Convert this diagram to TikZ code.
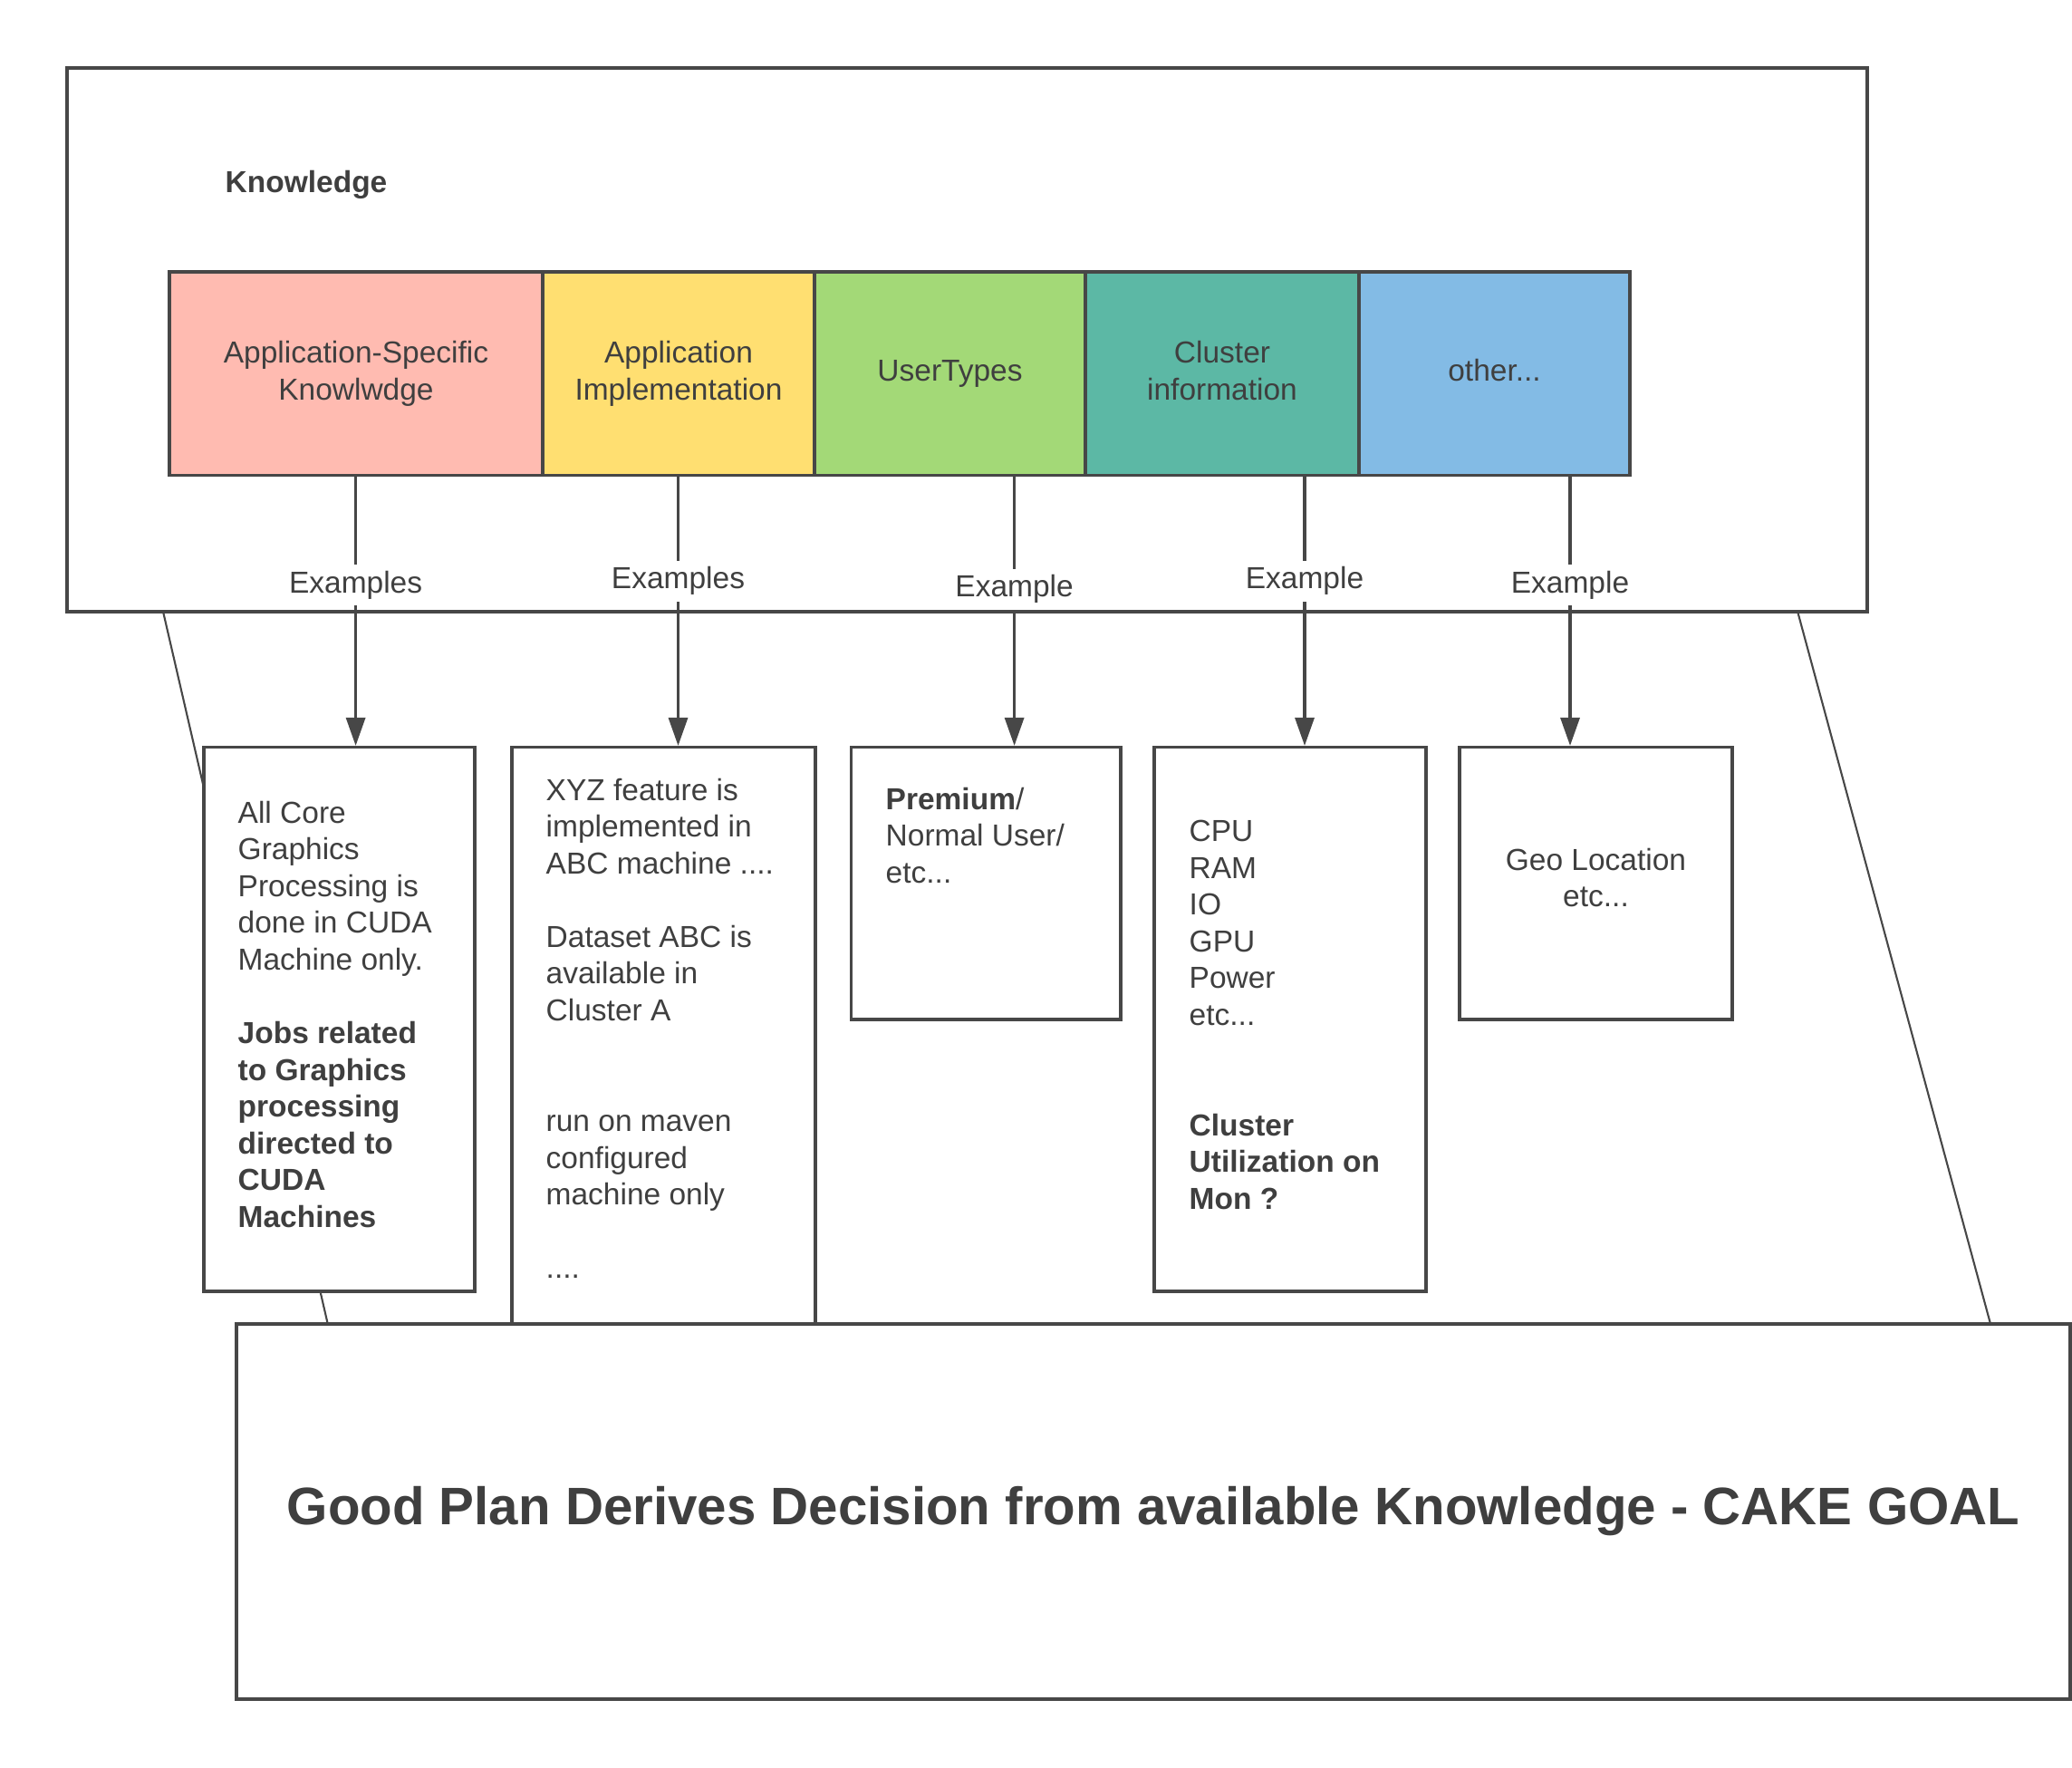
\documentclass[tikz,border=0pt]{standalone}
\usepackage{fontspec}
\setmainfont{Liberation Sans}
\usetikzlibrary{arrows.meta}
\definecolor{linegray}{HTML}{474747}
\definecolor{textgray}{HTML}{3F3F3F}
\definecolor{appfill}{HTML}{FFBBB1}
\definecolor{implfill}{HTML}{FFDF71}
\definecolor{userfill}{HTML}{A3D977}
\definecolor{clusterfill}{HTML}{5CB8A5}
\definecolor{otherfill}{HTML}{83BBE5}
\tikzstyle{boxframe}=[draw=linegray, line width=0.9pt, fill=white, inner sep=0pt]
\tikzstyle{kcell}=[boxframe, minimum height=2.245cm, align=center, execute at begin node={\vphantom{Ag}}, execute at end node={\vphantom{g}}]
\tikzstyle{note}=[anchor=north west, align=left, inner sep=0pt]
\tikzstyle{exlabel}=[fill=white, inner sep=2pt]
\tikzstyle{exarrow}=[draw=linegray, line width=0.9pt, -{Triangle[length=0.31cm, width=0.21cm]}]
\tikzstyle{zoomline}=[draw=linegray, line width=0.6pt]

\begin{document}
\begin{tikzpicture}[y=-1cm, text=textgray, font=\fontsize{9.53}{11.54}\selectfont]
\useasboundingbox (0,0) rectangle (22.87,19.50);
%frames
\node[boxframe, fill=none, minimum width=19.87cm, minimum height=6cm] (knowbox) at (10.675,3.75){};
\node at (3.38,2.04){\bfseries Knowledge};
\node[boxframe, minimum width=20.24cm, minimum height=4.14cm, font=\fontsize{16.57}{19}\selectfont\bfseries] (goalbox) at (12.73,16.68){Good Plan Derives Decision from available Knowledge - CAKE GOAL};
%zoom lines
\draw[zoomline] ([xshift=1.08cm]knowbox.south west) -- ([xshift=1.02cm]goalbox.north west);
\draw[zoomline] ([xshift=-0.78cm]knowbox.south east) -- ([xshift=-0.90cm]goalbox.north east);
%knowledge cells
\node[kcell, fill=appfill, minimum width=4.12cm] (cell1) at (3.93,4.1225){Application-Specific\\Knowlwdge};
\node[kcell, fill=implfill, minimum width=3.00cm] (cell2) at (7.49,4.1225){Application\\Implementation};
\node[kcell, fill=userfill, minimum width=2.99cm] (cell3) at (10.485,4.1225){UserTypes};
\node[kcell, fill=clusterfill, minimum width=3.02cm] (cell4) at (13.49,4.1225){Cluster\\information};
\node[kcell, fill=otherfill, minimum width=2.99cm] (cell5) at (16.495,4.1225){other...};
%example boxes
\node[boxframe, minimum width=2.99cm, minimum height=6.005cm] (box1) at (3.745,11.2475){};
\node[boxframe, minimum width=3.35cm, minimum height=6.365cm] (box2) at (7.325,11.4275){};
\node[boxframe, minimum width=2.975cm, minimum height=3.005cm] (box3) at (10.8825,9.7475){};
\node[boxframe, minimum width=3.00cm, minimum height=6.005cm] (box4) at (14.24,11.2475){};
\node[boxframe, minimum width=3.01cm, minimum height=3.005cm] (box5) at (17.615,9.7475){};
%texts
\node[note] (txt1) at (2.62,8.83){All Core\\Graphics\\Processing is\\done in CUDA\\Machine only.\\[0.407cm]\textbf{Jobs related}\\\textbf{to Graphics}\\\textbf{processing}\\\textbf{directed to}\\\textbf{CUDA}\\\textbf{Machines}};
\node[note] (txt2) at (6.02,8.58){XYZ feature is\\implemented in\\ABC machine ....\\[0.407cm]Dataset ABC is\\available in\\Cluster A\\[0.814cm]run on maven\\configured\\machine only\\[0.407cm]....};
\node[note] (txt3) at (9.77,8.68){\textbf{Premium}/\\Normal User/\\etc...};
\node[note] (txt4) at (13.12,9.045){CPU\\RAM\\IO\\GPU\\Power\\etc...\\[0.814cm]\textbf{Cluster}\\\textbf{Utilization on}\\\textbf{Mon ?}};
\node[anchor=north, align=center, inner sep=0pt] (txt5) at (17.615,9.35){Geo Location\\etc...};
%arrows
\foreach \i/\x/\p/\t in {1/3.926/0.402/Examples, 2/7.485/0.388/Examples, 3/11.196/0.418/Example, 4/14.40/0.388/Example, 5/17.33/0.402/Example}{
	\draw[exarrow] (cell\i.south -| \x,0) -- node[pos=\p, exlabel]{\t} (box\i.north -| \x,0);}
\end{tikzpicture}
\end{document}
